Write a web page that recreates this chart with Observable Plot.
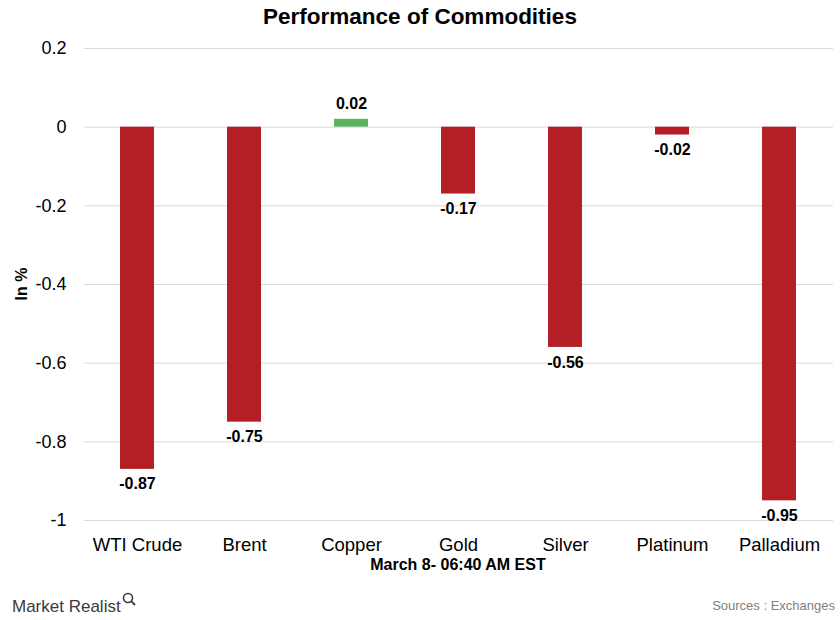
<!DOCTYPE html>
<html>
<head>
<meta charset="utf-8">
<script src="https://cdn.jsdelivr.net/npm/d3@7"></script>
<script src="https://cdn.jsdelivr.net/npm/@observablehq/plot@0.6"></script>
<style>
  body { margin: 0; background: #fff; font-family: "Liberation Sans", Arial, sans-serif; }
  #wrap { position: relative; width: 840px; height: 620px; overflow: hidden; }
  #title { position: absolute; top: 0; left: 0; width: 840px; height: 34px; line-height: 34px; text-align: center; font-weight: bold; font-size: 22.5px; color: #000; }
  #chart { position: absolute; top: 34px; left: 0; }
  #ylab { position: absolute; left: 22px; top: 284px; transform: translate(-50%, -50%) rotate(-90deg); font-weight: bold; font-size: 16px; white-space: nowrap; }
  #xlab { position: absolute; left: 458px; top: 565px; transform: translate(-50%, -50%); font-weight: bold; font-size: 16px; white-space: nowrap; }
  #logo { position: absolute; left: 12px; top: 592px; font-size: 17px; color: #3a3a3a; white-space: nowrap; }
  #src { position: absolute; right: 5px; top: 598px; font-size: 13px; color: #808080; white-space: nowrap; }
</style>
</head>
<body>
<div id="wrap">
  <div id="title">Performance of Commodities</div>
  <div id="chart"></div>
  <div id="ylab">In %</div>
  <div id="xlab">March 8- 06:40 AM EST</div>
  <div id="logo">Market Realist<svg width="14" height="14" style="vertical-align: 6px; margin-left:1px"><circle cx="6" cy="6" r="4.5" fill="none" stroke="#3a3a3a" stroke-width="1.6"/><line x1="9.2" y1="9.2" x2="13" y2="13" stroke="#3a3a3a" stroke-width="1.8"/></svg></div>
  <div id="src">Sources : Exchanges</div>
</div>
<script>
const categories = ["WTI Crude", "Brent", "Copper", "Gold", "Silver", "Platinum", "Palladium"];
const values = [-0.87, -0.75, 0.02, -0.17, -0.56, -0.02, -0.95];
const valueLabels = ["-0.87", "-0.75", "0.02", "-0.17", "-0.56", "-0.02", "-0.95"];
const yTicks = [0.2, 0, -0.2, -0.4, -0.6, -0.8, -1];
const yTickLabels = ["0.2", "0", "-0.2", "-0.4", "-0.6", "-0.8", "-1"];

const data = categories.map((c, i) => ({ cat: c, v: values[i], lab: valueLabels[i] }));
const RED = "#b31f24", GREEN = "#5fb260";

const chart = Plot.plot({
  width: 840,
  height: 550,
  marginTop: 14,
  marginBottom: 64,
  marginLeft: 84,
  marginRight: 7,
  style: { fontFamily: "Liberation Sans, Arial, sans-serif", color: "#000", background: "transparent" },
  x: { domain: categories, paddingInner: 0.682, paddingOuter: 0.341, label: null },
  y: { domain: [-1, 0.2], label: null },
  marks: [
    Plot.gridY(yTicks, { stroke: "#d9d9d9", strokeOpacity: 1, strokeWidth: 1 }),
    Plot.axisY({ ticks: yTicks, tickSize: 0, tickPadding: 18, fontSize: 18, tickFormat: d => yTickLabels[yTicks.indexOf(d)], label: null }),
    Plot.axisX({ tickSize: 0, tickPadding: 17, fontSize: 18.5, label: null }),
    Plot.barY(data, { x: "cat", y: "v", fill: d => d.v >= 0 ? GREEN : RED }),
    Plot.text(data.filter(d => d.v < 0), { x: "cat", y: "v", text: "lab", dy: 15, fontSize: 16, fontWeight: "bold", fill: "#000" }),
    Plot.text(data.filter(d => d.v >= 0), { x: "cat", y: "v", text: "lab", dy: -15, fontSize: 16, fontWeight: "bold", fill: "#000" })
  ]
});
document.getElementById("chart").appendChild(chart);
</script>
</body>
</html>
